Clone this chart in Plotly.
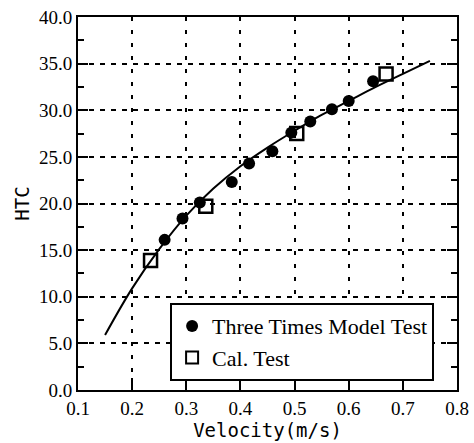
import plotly.graph_objects as go

# Data
model_x = [0.260, 0.293, 0.325, 0.384, 0.416, 0.459, 0.494, 0.529, 0.569, 0.600, 0.645]
model_y = [16.1, 18.4, 20.1, 22.3, 24.3, 25.6, 27.6, 28.8, 30.1, 31.0, 33.1]

cal_x = [0.234, 0.336, 0.504, 0.669]
cal_y = [13.9, 19.7, 27.5, 33.9]

fit_x = [0.15, 0.20, 0.25, 0.30, 0.35, 0.40, 0.45, 0.50, 0.55, 0.60, 0.65, 0.70, 0.75]
fit_y = [5.9, 10.9, 15.1, 18.7, 21.6, 24.0, 26.0, 27.8, 29.5, 31.0, 32.5, 33.9, 35.3]

x_ticks = [0.1, 0.2, 0.3, 0.4, 0.5, 0.6, 0.7, 0.8]
y_ticks = [0, 5, 10, 15, 20, 25, 30, 35, 40]

fig = go.Figure()
fig.add_trace(go.Scatter(x=fit_x, y=fit_y, mode="lines", line=dict(color="black", width=2, shape="spline"),
                         showlegend=False, hoverinfo="skip"))
fig.add_trace(go.Scatter(x=model_x, y=model_y, mode="markers", name="Three Times Model Test",
                         marker=dict(symbol="circle", size=12, color="black")))
fig.add_trace(go.Scatter(x=cal_x, y=cal_y, mode="markers", name="Cal. Test",
                         marker=dict(symbol="square-open", size=13, color="black", line=dict(width=2.5, color="black"))))

serif = "Liberation Serif"
fig.update_layout(
    width=474, height=443,
    margin=dict(l=78, r=17, t=17, b=53),
    paper_bgcolor="white", plot_bgcolor="white",
    legend=dict(x=0.243, y=0.233, xanchor="left", yanchor="top",
                bordercolor="black", borderwidth=2, bgcolor="white",
                font=dict(family=serif, size=22, color="black"),
                itemsizing="constant", itemwidth=30, tracegroupgap=0),
    showlegend=True,
)
fig.update_xaxes(range=[0.1, 0.8], tickvals=x_ticks, ticktext=[f"{v:.1f}" for v in x_ticks],
                 showgrid=True, gridcolor="black", griddash="4px,9px", gridwidth=1.5,
                 showline=True, linecolor="black", linewidth=2, mirror=True,
                 ticks="inside", ticklen=12, tickwidth=2, tickcolor="black",
                 tickfont=dict(family=serif, size=19, color="black"),
                 title=dict(text="Velocity(m/s)", font=dict(family="DejaVu Sans Mono", size=19, color="black"), standoff=6),
                 automargin=False, zeroline=False)
fig.update_yaxes(range=[0, 40], tickvals=y_ticks, ticktext=[f"{v:.1f}" for v in y_ticks],
                 showgrid=True, gridcolor="black", griddash="5px,6px", gridwidth=1.5,
                 showline=True, linecolor="black", linewidth=2, mirror="ticks",
                 ticks="inside", ticklen=10, tickwidth=2, tickcolor="black",
                 minor=dict(dtick=2.5, ticks="inside", ticklen=6, tickwidth=2, tickcolor="black", showgrid=False),
                 tickfont=dict(family=serif, size=19, color="black"),
                 title=dict(text="HTC", font=dict(family="DejaVu Sans Mono", size=19, color="black"), standoff=4),
                 automargin=False, zeroline=False)

fig.write_html("out.html")
